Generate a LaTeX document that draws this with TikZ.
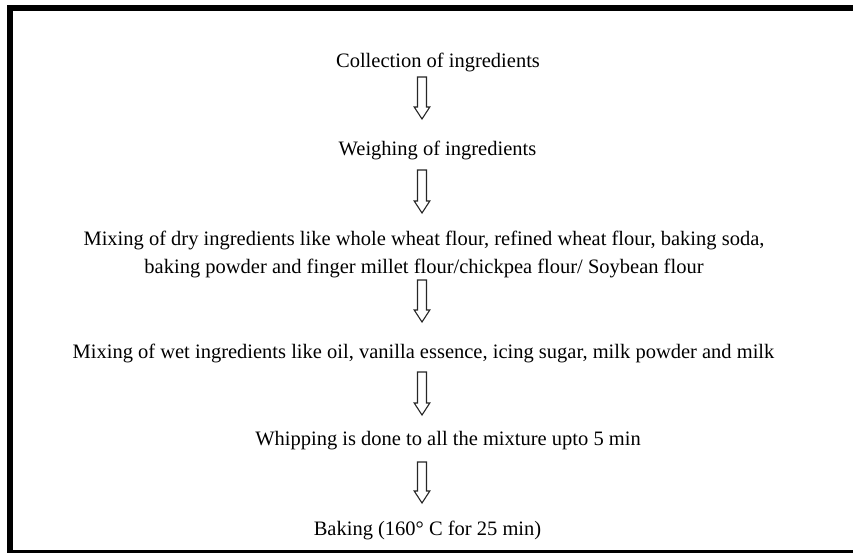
\documentclass[tikz,border=0pt]{standalone}
\usepackage{fontspec}
\setmainfont{Liberation Serif}
\usetikzlibrary{calc}
\tikzset{
  step text/.style={anchor=base, inner sep=0pt, font=\fontsize{20.5}{24}\selectfont},
  arrowline/.style={draw=black!85, line width=1.1pt, fill=white, line join=miter},
  frame/.style={draw=black, line width=6.3pt}
}
\newcommand\hollowarrow[2]{%
  \path[arrowline] let \p1=(#1), \p2=(#2) in
    ({\x1-4.5pt},\y1) -- ({\x1+4.5pt},\y1) -- ({\x1+4.5pt},{\y2+12pt})
    -- ({\x1+7.8pt},{\y2+12pt}) -- (\x1,\y2) -- ({\x1-7.8pt},{\y2+12pt})
    -- ({\x1-4.5pt},{\y2+12pt}) -- cycle;}
\begin{document}
\begin{tikzpicture}[x=1pt, y=-1pt]
\useasboundingbox (0,0) rectangle (853,553);
\draw[frame] (870,8.3) -- (10.2,8.3) -- (10.2,553.6) -- (870,553.6);
\node[step text] (t1) at (438,68) {Collection of ingredients};
\node[step text] (t2) at (437.5,156) {Weighing of ingredients};
\node[step text] (t3) at (424,245) {Mixing of dry ingredients like whole wheat flour, refined wheat flour, baking soda,};
\node[step text] (t3b) at (424,273) {baking powder and finger millet flour/chickpea flour/ Soybean flour};
\node[step text] (t4) at (423.5,358) {Mixing of wet ingredients like oil, vanilla essence, icing sugar, milk powder and milk};
\node[step text] (t5) at (448,445) {Whipping is done to all the mixture upto 5 min};
\node[step text] (t6) at (427.5,535) {Baking (160° C for 25 min)};
\coordinate (a1s) at (422,77);  \coordinate (a1e) at (422,119);
\coordinate (a2s) at (422,170); \coordinate (a2e) at (422,213);
\coordinate (a3s) at (422,280); \coordinate (a3e) at (422,322);
\coordinate (a4s) at (422,372); \coordinate (a4e) at (422,415);
\coordinate (a5s) at (422,462); \coordinate (a5e) at (422,503);
\hollowarrow{a1s}{a1e}
\hollowarrow{a2s}{a2e}
\hollowarrow{a3s}{a3e}
\hollowarrow{a4s}{a4e}
\hollowarrow{a5s}{a5e}
\end{tikzpicture}
\end{document}
